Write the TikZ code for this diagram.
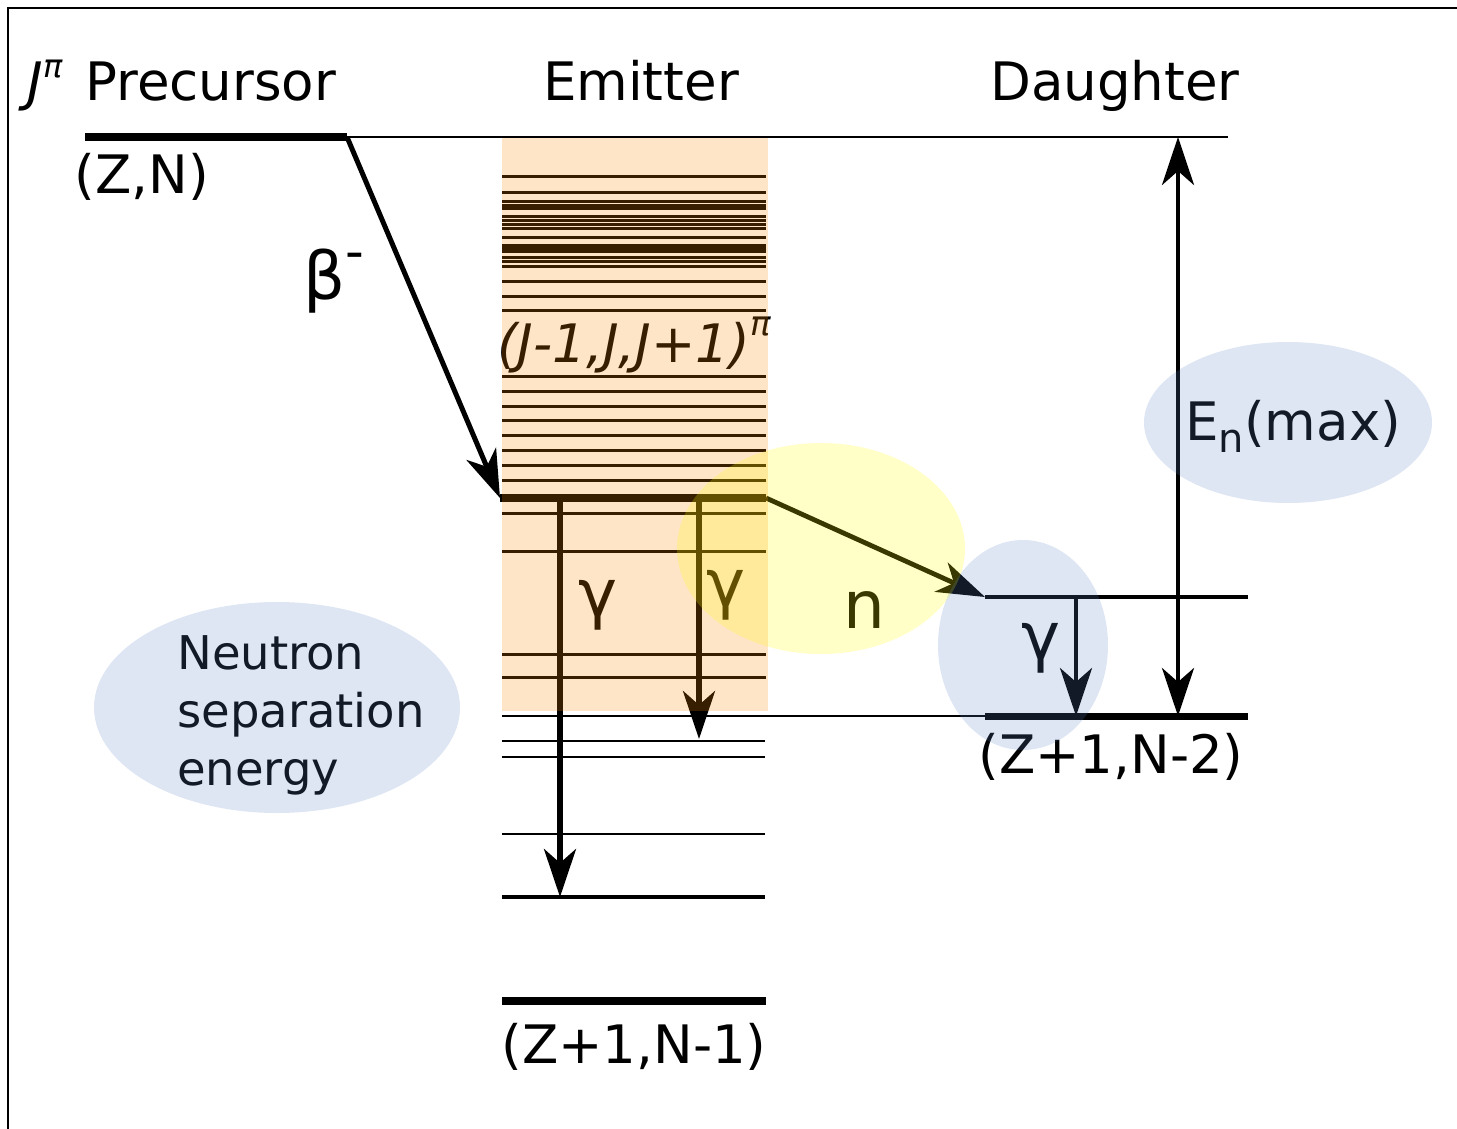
\documentclass[tikz,border=0pt]{standalone}
\usepackage{fontspec}
\setmainfont{DejaVu Sans}
\usetikzlibrary{arrows.meta}
\definecolor{boxorange}{RGB}{255,140,0}
\definecolor{hlyellow}{RGB}{255,255,0}
\definecolor{hlblue}{RGB}{90,130,200}
\newcommand\lblfont{\fontsize{26.5pt}{32pt}\selectfont}
\newcommand\nsefont{\fontsize{23.25pt}{29pt}\selectfont}
\newcommand\grkfont{\fontsize{33pt}{40pt}\selectfont}
\begin{document}
\begin{tikzpicture}[x=0.5pt,y=-0.5pt,
  lvl/.style={line width=1.5pt},
  txt/.style={inner sep=0pt, font=\lblfont},
  grk/.style={inner sep=0pt, font=\grkfont},
  arr/.style={-{Stealth[length=24pt,width=16pt,inset=7pt]}},
  dblarr/.style={{Stealth[length=24pt,width=16pt,inset=7pt]}-{Stealth[length=24pt,width=16pt,inset=7pt]}},
  hlY/.style={fill=hlyellow, fill opacity=0.22},
  hlB/.style={fill=hlblue, fill opacity=0.2}]
\useasboundingbox (0,0) rectangle (1457,1129);
\fill[white] (0,0) rectangle (1457,1129);
% frame
\coordinate (bTR) at (1457,8);
\coordinate (bTL) at (8,8);
\coordinate (bBL) at (8,1129);
\draw[line width=1pt] (bTR) -- (bTL) -- (bBL);
% precursor level
\coordinate (pL) at (85,137);
\coordinate (pR) at (347,137);
\coordinate (topR) at (1228,137);
\draw[line width=4pt] (pL) -- (pR);
\draw[line width=1pt] (pR) -- (topR);
% emitter levels
\foreach \y [count=\i] in {177,192,201,205,208,216,220,224,228,237,245,248,251,257,261,266,281,296,310,376,391,406,420,435,450,465,480,513,551,654,677}{
  \coordinate (eL\i) at (502,\y);
  \coordinate (eR\i) at (766,\y);
  \draw[lvl] (eL\i) -- (eR\i);
}
% emitter state populated by beta decay
\coordinate (eSL) at (500,498);
\coordinate (eSR) at (766,498);
\draw[line width=4pt] (eSL) -- (eSR);
% neutron separation energy line and daughter ground state
\coordinate (snL) at (502,716);
\coordinate (dGL) at (985,716);
\coordinate (dGR) at (1248,716);
\draw[line width=0.8pt] (snL) -- (dGL);
\draw[line width=3.5pt] (dGL) -- (dGR);
% daughter excited level
\coordinate (dL) at (985,597);
\coordinate (dR) at (1248,597);
\draw[line width=2pt] (dL) -- (dR);
% emitter lower levels
\foreach \y [count=\i] in {741,757,834}{
  \coordinate (lL\i) at (502,\y);
  \coordinate (lR\i) at (765,\y);
  \draw[line width=1.4pt] (lL\i) -- (lR\i);
}
\coordinate (l4L) at (502,897);
\coordinate (l4R) at (765,897);
\draw[line width=2.2pt] (l4L) -- (l4R);
\coordinate (gsL) at (502,1001);
\coordinate (gsR) at (766,1001);
\draw[line width=4pt] (gsL) -- (gsR);
% arrows
\draw[arr, line width=2.5pt] (pR) -- (eSL);
\draw[arr, line width=2.4pt] (eSR) -- (dL);
\coordinate (g1a) at (560,498);
\coordinate (g1b) at (560,897);
\draw[arr, line width=2.6pt] (g1a) -- (g1b);
\coordinate (g2a) at (699,498);
\coordinate (g2b) at (699,739);
\draw[arr, line width=2.6pt] (g2a) -- (g2b);
\coordinate (g3a) at (1076,597);
\coordinate (g3b) at (1076,716);
\draw[arr, line width=2.2pt] (g3a) -- (g3b);
\coordinate (enT) at (1178,137);
\coordinate (enB) at (1178,716);
\draw[dblarr, line width=2.2pt] (enB) -- (enT);
% texts
\node[txt, anchor=base west] (jpi) at (27,101) {\textit{J}\raisebox{0.45em}{\fontsize{16pt}{16pt}\selectfont\textit{π}}};
\node[txt, anchor=base west] (prec) at (85,101) {Precursor};
\node[txt] (zn) at (142,177) {(Z,N)};
\node[txt, anchor=base] (emit) at (641,101) {Emitter};
\node[txt, anchor=base] (daugh) at (1115,101) {Daughter};
\node[grk, anchor=base west] (beta) at (303,299) {β\raisebox{15pt}{\fontsize{26pt}{26pt}\selectfont -}};
\node[inner sep=0pt, font=\fontsize{26.5pt}{30pt}\selectfont] (spin) at (634,345) {\itshape (J-1,J,J+1)\raisebox{0.5em}{\fontsize{17pt}{17pt}\selectfont π}};
\node[grk, anchor=base] (gam1) at (598,616) {γ};
\node[grk, anchor=base] (gam2) at (726,606) {γ};
\node[grk, anchor=base] (nlab) at (864,628) {n};
\node[grk, anchor=base] (gam3) at (1041,659) {γ};
\node[txt, anchor=base west] (enmax) at (1185,440) {E\raisebox{-6pt}{\fontsize{20pt}{20pt}\selectfont n}(max)};
\node[txt] (zn2) at (1111,757) {(Z+1,N-2)};
\node[txt] (zn1) at (634,1047) {(Z+1,N-1)};
\node[inner sep=0pt, font=\nsefont, align=left] (nse) at (301,715) {Neutron\\separation\\energy};
% overlays
\fill[boxorange, fill opacity=0.22] (502,138) rectangle (768,711);
\fill[hlY] (821,548.5) ellipse [x radius=72pt, y radius=52.75pt];
\fill[hlB] (1288,422.5) ellipse [x radius=72pt, y radius=40.25pt];
\fill[hlB] (1023,645) ellipse [x radius=42.5pt, y radius=52.5pt];
\fill[hlB] (277,707.5) ellipse [x radius=91.5pt, y radius=52.75pt];
\end{tikzpicture}
\end{document}
